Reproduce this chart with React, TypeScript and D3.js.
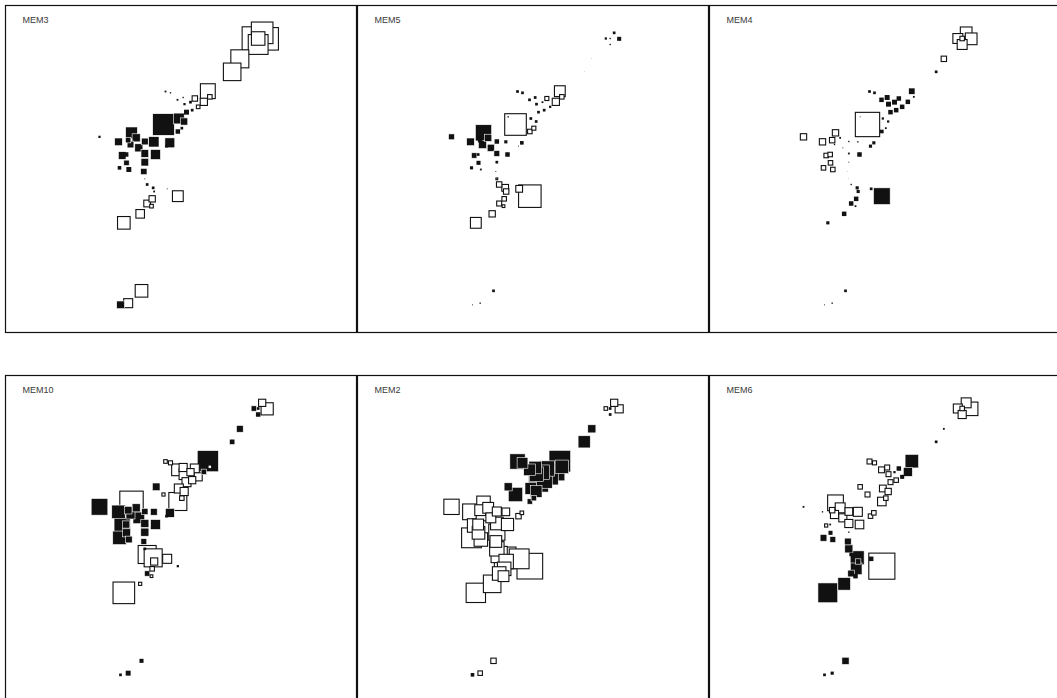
import React, { useEffect } from "react";
import * as d3 from "d3";

// Sampling sites: easting / northing (projected units)
const siteIds = [
  "T1","T2","T3","T4","T5",
  "A1","A2","A3","A4","A5","A6","A7","A8","A9","A10","A11","A12","A13","A14","A15","A16","A17","A18","A19","A20","A21",
  "A22","A23","A24","A25","A26","A27","A28","A29","A30","A32","A33","A34","A35","A36","A37","A38","A39","A40","A41","A42","A43","A44","A45","A46","A47","A48","A49","A50","A51","A52","A53",
  "B1","B2","B3",
];
const siteEast = [
  505,530,545,518,518,
  463,440,367,373,355,338,328,315,297,293,276,240,255,320,303,280,296,234,212,277,289,
  42,99,128,138,152,135,160,178,205,178,210,243,253,110,122,123,102,130,178,175,178,185,203,206,245,277,200,185,198,164,115,
  168,128,105,
];
const siteNorth = [
  943,960,942,925,943,
  882,843,785,768,753,738,763,752,746,766,759,784,780,728,722,703,694,685,708,664,674,
  648,633,638,660,645,625,615,634,633,598,595,620,630,592,595,570,555,550,572,544,522,505,495,484,492,470,462,448,440,417,390,
  186,149,144,
];

// Moran eigenvector map scores per site
const mem3 = [
  -2.6,-2.4,-2.5,-2.2,-1.5,
  -2.0,-1.95,-1.65,-0.5,-0.8,-0.4,-0.6,0.3,0.25,0.15,0.2,0.2,0.15,0.3,0.55,1.2,0.8,2.4,0.2,0.5,0.3,
  0.25,0.85,0.6,1.3,0.9,0.75,0.9,0.75,1.15,0.85,1.1,0.3,1.1,0.85,0.5,0.6,0.4,0.55,0.85,0.7,0.1,0.3,0.3,0.2,0.1,-1.2,-0.7,-0.75,-0.4,-0.95,-1.4,
  -1.4,-1.0,0.85,
];
const mem5 = [
  0.25,0.3,0.45,0.15,0.15,
  0.05,0.05,-1.2,-0.5,-0.8,0.25,-0.45,0.2,0.3,0.3,0.3,0.3,0.3,0.3,0.3,0.3,0.3,-2.4,0.15,-0.5,-0.45,
  0.65,0.85,0.5,1.8,0.8,0.9,0.8,0.5,0.35,0.65,0.5,0.1,0.4,0.6,0.3,0.45,0.35,0.2,0.3,0.1,-0.2,-0.6,-0.75,-0.6,-0.75,-2.5,-0.5,-0.55,-0.3,-0.7,-1.2,
  0.3,0.15,0.1,
];
const mem4 = [
  -1.1,-1.3,-1.3,-1.1,-0.5,
  -0.6,0.3,0.7,0.2,0.5,0.5,0.5,0.55,0.55,0.55,0.5,0.3,0.3,0.5,0.5,0.25,0.25,-2.7,0.1,0.4,0.2,
  -0.7,-0.7,-0.6,-0.7,0.2,0.15,0.1,0.15,0.15,0.2,0.5,0.35,0.35,-0.5,-0.5,-0.5,-0.5,-0.5,0.1,0.05,0.05,0.15,0.35,0.35,0.3,1.85,0.5,0.5,0.2,0.5,0.35,
  0.3,0.15,0.1,
];
const mem10 = [
  0.6,-0.8,-1.35,0.5,0.3,
  0.75,0.6,2.35,-0.4,0.6,-0.9,-1.0,-0.8,-1.2,-0.9,-1.3,-0.4,-0.45,-0.8,-1.0,-1.0,-0.9,-0.35,0.85,-2.0,-0.5,
  1.85,1.5,0.85,-2.6,0.9,1.0,1.3,0.7,0.75,0.9,1.1,0.3,1.0,1.8,0.8,0.9,1.5,0.75,0.9,0.65,0.3,-2.0,-2.0,-0.8,-1.0,0.25,-0.5,0.6,-0.3,-0.35,-2.4,
  0.45,0.55,0.3,
];
const mem2 = [
  -0.4,-0.8,-0.9,0.3,0.3,
  0.9,1.35,2.4,1.5,2.0,1.8,1.7,1.6,1.6,1.4,1.3,1.7,1.2,1.8,2.2,1.3,1.3,1.6,0.9,0.6,0.6,
  -1.7,-1.75,-1.2,-1.5,-1.2,-1.4,-1.1,-1.0,-0.85,-1.4,-1.35,-0.6,-0.4,-1.5,-1.2,-1.4,-2.2,-1.5,-1.8,-1.3,-1.6,-1.8,-2.4,-1.6,-2.2,-2.85,-1.5,-1.5,-1.2,-1.95,-2.15,
  -0.6,-0.5,0.4,
];
const mem6 = [
  -1.0,-1.1,-1.5,-0.9,-0.5,
  0.2,0.3,1.5,0.1,1.0,0.45,0.5,0.25,-0.55,-0.55,-0.65,-0.55,-0.45,-0.5,-0.55,-0.75,-0.7,-0.55,-0.5,-0.95,-0.5,
  0.2,0.15,-0.6,-1.75,-1.1,-0.9,-0.9,-0.85,-1.0,-0.9,-0.95,-0.5,-0.5,-0.35,0.2,0.45,0.75,0.65,0.15,0.75,0.9,0.4,1.55,0.6,0.5,-2.9,1.3,0.75,0.5,1.4,2.2,
  0.8,0.35,0.3,
];

const panelNames = ["MEM3", "MEM5", "MEM4", "MEM10", "MEM2", "MEM6"];
const panelValues = [mem3, mem5, mem4, mem10, mem2, mem6];

const PANEL_W = 351;
const PANEL_H = 327;
const STEP_X = 352;
const ROW_Y = [5.5, 375.5];
const LEFT = 5.5;

const x = d3.scaleLinear().domain([-240, 816]).range([0, 352]);
const y = d3.scaleLinear().domain([61, 1042]).range([327, 0]);
const side = d3.scaleLinear().domain([0, 3]).range([0, 27]);

function Panel({ name, values, tx, ty }: { name: string; values: number[]; tx: number; ty: number }) {
  // larger squares first so the smaller ones stay visible on top
  const order = d3.range(siteIds.length).sort(
    (a, b) => Math.abs(values[b]) - Math.abs(values[a])
  );
  return (
    <g transform={`translate(${tx},${ty})`}>
      <rect x={0} y={0} width={PANEL_W} height={PANEL_H} fill="#fff" stroke="#111" strokeWidth={1.2} />
      <clipPath id={`clip-${name}`}>
        <rect x={0} y={0} width={PANEL_W} height={PANEL_H} />
      </clipPath>
      <g clipPath={`url(#clip-${name})`}>
        {order.map((i) => {
          const v = values[i];
          const s = side(Math.abs(v));
          const cx = x(siteEast[i]);
          const cy = y(siteNorth[i]);
          const pos = v >= 0;
          // thin white outline separates overlapping filled squares
          const outline = pos ? (s > 5 ? 0.6 : 0) : 1.1;
          return (
            <rect
              key={siteIds[i]}
              x={cx - s / 2}
              y={cy - s / 2}
              width={s}
              height={s}
              fill={pos ? "#111" : "#fff"}
              stroke={pos ? "#fff" : "#111"}
              strokeWidth={outline}
            />
          );
        })}
      </g>
      <text x={17} y={17} fontFamily="Liberation Sans, Arial, sans-serif" fontSize={9} fill="#3a3a3a">
        {name}
      </text>
    </g>
  );
}

export default function App() {
  useEffect(() => {
    document.body.style.margin = "0";
  }, []);
  return (
    <svg width={1057} height={698} style={{ display: "block", background: "#fff" }}>
      {panelNames.map((name, k) => (
        <Panel
          key={name}
          name={name}
          values={panelValues[k]}
          tx={LEFT + (k % 3) * STEP_X}
          ty={ROW_Y[Math.floor(k / 3)]}
        />
      ))}
    </svg>
  );
}
